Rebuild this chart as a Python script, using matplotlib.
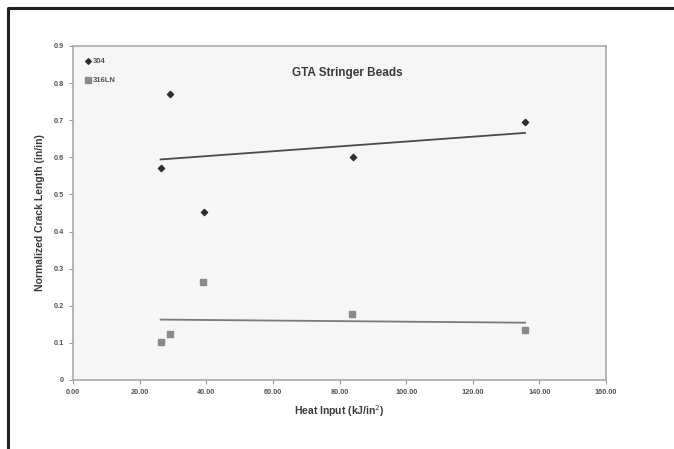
import numpy as np
import matplotlib
matplotlib.use("Agg")
import matplotlib.pyplot as plt
from matplotlib.lines import Line2D

plt.rcParams['font.family'] = ['Liberation Sans', 'DejaVu Sans']

heat_304 = [26.3, 29.0, 39.2, 84.0, 135.7]
crack_304 = [0.570, 0.771, 0.454, 0.600, 0.696]
heat_316 = [26.3, 29.0, 38.9, 83.7, 135.7]
crack_316 = [0.102, 0.124, 0.263, 0.177, 0.134]
x_ticks = [0, 20, 40, 60, 80, 100, 120, 140, 160]
y_ticks = [0, 0.1, 0.2, 0.3, 0.4, 0.5, 0.6, 0.7, 0.8, 0.9]

fig = plt.figure(figsize=(6.74, 4.49), dpi=100)
fig.patch.set_facecolor('white')
ax = fig.add_axes([73/674, 1 - 380/449, (606-73)/674, (380-46)/449])
ax.set_facecolor('#f6f6f6')

ax.scatter(heat_304, crack_304, marker='D', s=10, color='#2e2e2e', label='304', zorder=3)
ax.scatter(heat_316, crack_316, marker='s', s=17, color='#8a8a8a', label='316LN', zorder=3)

for xs, ys, col in [(heat_304, crack_304, '#4a4a4a'), (heat_316, crack_316, '#7a7a7a')]:
    k, b = np.polyfit(xs, ys, 1)
    xx = np.array([min(xs), max(xs)])
    ax.plot(xx, k*xx + b, color=col, lw=1.3, zorder=2)

ax.set_xlim(0, 160)
ax.set_ylim(0, 0.9)
ax.set_xticks(x_ticks)
ax.set_xticklabels([f"{v:.2f}" for v in x_ticks])
ax.set_yticks(y_ticks)
ax.set_yticklabels(["0"] + [f"{v:.1f}" for v in y_ticks[1:]])
ax.tick_params(axis='both', labelsize=5.3, colors='#999999', labelcolor='#555555', length=3, width=0.8)
for lab in ax.get_xticklabels() + ax.get_yticklabels():
    lab.set_fontweight('bold')
for s in ax.spines.values():
    s.set_color('#aaaaaa')
    s.set_linewidth(1.2)

ax.set_xlabel("Heat Input (kJ/in$^{2}$)", fontsize=7.5, fontweight='bold', color='#3a3a3a', labelpad=5)
ax.set_ylabel("Normalized Crack Length (in/in)", fontsize=7.5, fontweight='bold', color='#3a3a3a', labelpad=6)
ax.text(0.515, 0.92, "GTA Stringer Beads", transform=ax.transAxes, ha='center', va='center',
        fontsize=8.5, fontweight='bold', color='#3a3a3a')

leg = ax.legend(loc='upper left', bbox_to_anchor=(0.015, 0.975), frameon=False, fontsize=5.5,
                handletextpad=0.2, handlelength=1.0, borderaxespad=0.0, labelspacing=1.6,
                markerscale=0.9)
for t in leg.get_texts():
    t.set_color('#555555')
    t.set_fontweight('bold')

fig.add_artist(Line2D([8/674, 8/674, 1.0], [0.0, 1 - 8/449, 1 - 8/449],
                      transform=fig.transFigure, color='#222222', lw=2.2))

fig.savefig("out.png", dpi=100)
